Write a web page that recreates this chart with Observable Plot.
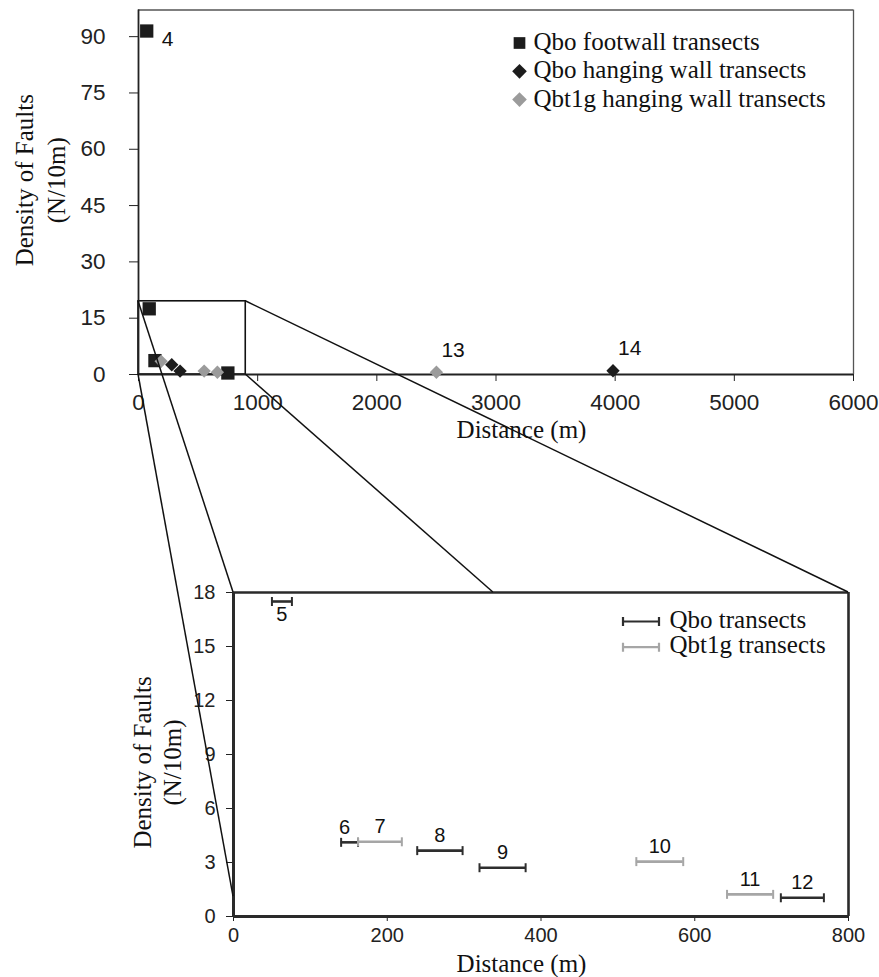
<!DOCTYPE html>
<html>
<head>
<meta charset="utf-8">
<script src="https://cdn.jsdelivr.net/npm/d3@7"></script>
<script src="https://cdn.jsdelivr.net/npm/@observablehq/plot@0.6"></script>
<style>
  body { margin: 0; background: #fff; }
  #wrap { position: relative; width: 879px; height: 977px; overflow: hidden; background: #fff; }
  #wrap > svg { display: block; }
  #overlay { position: absolute; left: 0; top: 0; pointer-events: none; }
</style>
</head>
<body>
<div id="wrap"></div>
<script>
// ---------- Top chart data ----------
const footwallX = [69, 90, 138, 750];
const footwallY = [91.5, 17.5, 3.7, 0.4];
const hangingX = [279, 349, 3982];
const hangingY = [2.6, 0.9, 1.0];
const qbt1gX = [190, 551, 662, 2500];
const qbt1gY = [3.5, 0.9, 0.6, 0.6];
const topLabelIds = ["4", "13", "14"];
const topLabelX = [69, 2500, 3982];
const topLabelY = [91.5, 0.6, 1.0];
const topXTicks = [0, 1000, 2000, 3000, 4000, 5000, 6000];
const topYTicks = [0, 15, 30, 45, 60, 75, 90];
const topXMax = 6000;
const topYMax = 97.1;
const zoomBoxX = [0, 900];
const zoomBoxY = [0, 19.5];
const topLegend = ["Qbo footwall transects", "Qbo hanging wall transects", "Qbt1g hanging wall transects"];

// ---------- Bottom chart data ----------
const transectId = ["5", "6", "7", "8", "9", "10", "11", "12"];
const transectStart = [50, 140, 162, 239, 320, 524, 642, 712];
const transectEnd = [76, 162, 219, 298, 380, 585, 702, 768];
const transectY = [17.5, 4.12, 4.15, 3.66, 2.71, 3.05, 1.23, 1.04];
const transectUnit = ["Qbo", "Qbo", "Qbt1g", "Qbo", "Qbo", "Qbt1g", "Qbt1g", "Qbo"];
const botXTicks = [0, 200, 400, 600, 800];
const botYTicks = [0, 3, 6, 9, 12, 15, 18];
const botXMax = 800;
const botYMax = 18;
const botLegend = ["Qbo transects", "Qbt1g transects"];
// connector targets on the lower chart: [x, y]
const connectorTargets = [[0, 18], [0, 1.1], [800, 18], [338, 18]];

// ---------- styles ----------
const BLACK = "#1c1c1c";
const GRAY = "#9b9b9b";
const BAR_BLACK = "#2e2e2e";
const BAR_GRAY = "#a6a6a6";
const SANS = "Liberation Sans, Arial, sans-serif";
const SERIF = "Liberation Serif, Times New Roman, serif";
const fmt = d3.format("d");

const footwall = footwallX.map((x, i) => ({x, y: footwallY[i]}));
const hanging = hangingX.map((x, i) => ({x, y: hangingY[i]}));
const qbt1g = qbt1gX.map((x, i) => ({x, y: qbt1gY[i]}));
const topLabels = topLabelIds.map((id, i) => ({id, x: topLabelX[i], y: topLabelY[i]}));
const zoomBox = [{x1: zoomBoxX[0], x2: zoomBoxX[1], y1: zoomBoxY[0], y2: zoomBoxY[1]}];

const TOP_H = 440;
const topPlot = Plot.plot({
  width: 879,
  height: TOP_H,
  marginLeft: 138,
  marginRight: 26,
  marginTop: 9.5,
  marginBottom: TOP_H - 374,
  style: {fontFamily: SANS, background: "#fff", overflow: "visible"},
  x: {domain: [0, topXMax]},
  y: {domain: [0, topYMax]},
  marks: [
    Plot.ruleY([topYMax], {stroke: "#555", strokeWidth: 1.3}),
    Plot.ruleX([topXMax], {stroke: "#555", strokeWidth: 1.3}),
    Plot.axisY({ticks: topYTicks, tickFormat: fmt, tickSize: 9, tickPadding: 24, fontSize: 22.5, label: null, color: "#222"}),
    Plot.axisX({ticks: topXTicks, tickFormat: fmt, tickSize: 7, tickPadding: 13, fontSize: 22.5, label: null, color: "#222"}),
    Plot.rect(zoomBox, {x1: "x1", x2: "x2", y1: "y1", y2: "y2", fill: "none", stroke: "#111", strokeWidth: 1.6}),
    Plot.ruleY([0], {stroke: "#222", strokeWidth: 1.8}),
    Plot.ruleX([0], {stroke: "#222", strokeWidth: 1.8}),
    Plot.dot(footwall, {x: "x", y: "y", symbol: "square", r: 7.5, fill: BLACK}),
    Plot.dot(hanging, {x: "x", y: "y", symbol: "diamond2", r: 6, fill: BLACK}),
    Plot.dot(qbt1g, {x: "x", y: "y", symbol: "diamond2", r: 6, fill: GRAY}),
    Plot.text(topLabels.filter(d => d.id === "4"), {x: "x", y: "y", text: "id", dx: 15, dy: 8, textAnchor: "start", fontSize: 21, fill: "#111"}),
    Plot.text(topLabels.filter(d => d.id !== "4"), {x: "x", y: "y", text: "id", dx: 5, dy: -22, textAnchor: "start", fontSize: 21, fill: "#111"}),
    // legend
    ...topLegend.map((label, i) => Plot.dot([label], {
      frameAnchor: "top-left", dx: 381, dy: 33 + i * 28.3,
      symbol: i === 0 ? "square" : "diamond2", r: 6.6,
      fill: i === 2 ? GRAY : BLACK
    })),
    ...topLegend.map((label, i) => Plot.text([label], {
      frameAnchor: "top-left", dx: 395, dy: 32 + i * 28.3, text: d => d,
      textAnchor: "start", lineAnchor: "middle", fontFamily: SERIF, fontSize: 25, fill: "#111"
    })),
    // axis titles
    Plot.text(["Distance (m)"], {frameAnchor: "bottom", dx: 25.5, dy: 55, text: d => d, lineAnchor: "middle", textAnchor: "middle", fontFamily: SERIF, fontSize: 25, fill: "#111"}),
    Plot.text(["Density of Faults\n(N/10m)"], {frameAnchor: "left", dx: -100, dy: -12, rotate: -90, text: d => d, lineAnchor: "middle", textAnchor: "middle", lineHeight: 1.3, fontFamily: SERIF, fontSize: 25, fill: "#111"})
  ]
});

// ---------- bottom chart ----------
const transects = transectId.map((id, i) => ({id, x1: transectStart[i], x2: transectEnd[i], y: transectY[i], unit: transectUnit[i]}));
const qboT = transects.filter(d => d.unit === "Qbo");
const qbtT = transects.filter(d => d.unit === "Qbt1g");

const capSymbol = {
  draw(ctx, size) {
    const h = Math.sqrt(size / Math.PI);
    ctx.moveTo(0, -h);
    ctx.lineTo(0, h);
  }
};
const legendBarSymbol = {
  draw(ctx, size) {
    const w = Math.sqrt(size / Math.PI);
    const h = 4.5;
    ctx.moveTo(-w, 0); ctx.lineTo(w, 0);
    ctx.moveTo(-w, -h); ctx.lineTo(-w, h);
    ctx.moveTo(w, -h); ctx.lineTo(w, h);
  }
};

function barMarks(data, color) {
  return [
    Plot.ruleY(data, {x1: "x1", x2: "x2", y: "y", stroke: color, strokeWidth: 2.6}),
    Plot.dot(data, {x: "x1", y: "y", symbol: capSymbol, r: 4.5, stroke: color, strokeWidth: 2, fill: "none"}),
    Plot.dot(data, {x: "x2", y: "y", symbol: capSymbol, r: 4.5, stroke: color, strokeWidth: 2, fill: "none"})
  ];
}

const BOT_H = 977 - TOP_H;
const botTop = 592 - TOP_H;
const botPlot = Plot.plot({
  width: 879,
  height: BOT_H,
  marginLeft: 233,
  marginRight: 31,
  marginTop: botTop,
  marginBottom: 977 - 916,
  style: {fontFamily: SANS, background: "transparent", overflow: "visible"},
  x: {domain: [0, botXMax]},
  y: {domain: [0, botYMax]},
  marks: [
    Plot.ruleY([botYMax], {stroke: "#2a2a2a", strokeWidth: 2.6}),
    Plot.ruleX([botXMax], {stroke: "#2a2a2a", strokeWidth: 2.6}),
    Plot.axisY({ticks: botYTicks, tickFormat: fmt, tickSize: 7, tickPadding: 11, fontSize: 20, label: null, color: "#222"}),
    Plot.axisX({ticks: botXTicks, tickFormat: fmt, tickSize: 5, tickPadding: 6, fontSize: 20, label: null, color: "#222"}),
    Plot.ruleY([0], {stroke: "#2a2a2a", strokeWidth: 3}),
    Plot.ruleX([0], {stroke: "#2a2a2a", strokeWidth: 3}),
    ...barMarks(qboT, BAR_BLACK),
    ...barMarks(qbtT, BAR_GRAY),
    Plot.text(transects.filter(d => d.id !== "5" && d.id !== "6"), {x: d => (d.x1 + d.x2) / 2, y: "y", text: "id", dy: -15, fontSize: 20, fill: "#111"}),
    Plot.text(transects.filter(d => d.id === "6"), {x: d => (d.x1 + d.x2) / 2, y: "y", text: "id", dx: -5, dy: -15, fontSize: 20, fill: "#111"}),
    Plot.text(transects.filter(d => d.id === "5"), {x: d => (d.x1 + d.x2) / 2, y: "y", text: "id", dy: 13, fontSize: 20, fill: "#111"}),
    // legend
    ...botLegend.map((label, i) => Plot.dot([label], {
      frameAnchor: "top-left", dx: 407.5, dy: 29 + i * 25.7,
      symbol: legendBarSymbol, r: 18, stroke: i === 0 ? BAR_BLACK : BAR_GRAY, strokeWidth: 2.2, fill: "none"
    })),
    ...botLegend.map((label, i) => Plot.text([label], {
      frameAnchor: "top-left", dx: 436, dy: 27 + i * 25.7, text: d => d,
      textAnchor: "start", lineAnchor: "middle", fontFamily: SERIF, fontSize: 25, fill: "#111"
    })),
    Plot.text(["Distance (m)"], {frameAnchor: "bottom", dx: -19.5, dy: 47, text: d => d, lineAnchor: "middle", textAnchor: "middle", fontFamily: SERIF, fontSize: 25, fill: "#111"}),
    Plot.text(["Density of Faults\n(N/10m)"], {frameAnchor: "left", dx: -77, dy: 8, rotate: -90, text: d => d, lineAnchor: "middle", textAnchor: "middle", lineHeight: 1.18, fontFamily: SERIF, fontSize: 25, fill: "#111"})
  ]
});

const wrap = document.getElementById("wrap");
wrap.appendChild(topPlot);
wrap.appendChild(botPlot);

// ---------- connector lines between the zoom box and the lower chart ----------
const tx = topPlot.scale("x"), ty = topPlot.scale("y");
const bx = botPlot.scale("x"), by = botPlot.scale("y");
const boxCorners = [[zoomBoxX[0], zoomBoxY[1]], [zoomBoxX[0], zoomBoxY[0]], [zoomBoxX[1], zoomBoxY[1]], [zoomBoxX[1], zoomBoxY[0]]];
const links = boxCorners.map((c, i) => ({
  x1: tx.apply(c[0]), y1: ty.apply(c[1]),
  x2: bx.apply(connectorTargets[i][0]), y2: by.apply(connectorTargets[i][1]) + TOP_H
}));
const overlay = d3.create("svg")
  .attr("id", "overlay")
  .attr("width", 879)
  .attr("height", 977);
overlay.selectAll("line").data(links).join("line")
  .attr("x1", d => d.x1).attr("y1", d => d.y1)
  .attr("x2", d => d.x2).attr("y2", d => d.y2)
  .attr("stroke", "#111").attr("stroke-width", 1.5);
wrap.appendChild(overlay.node());
</script>
</body>
</html>
